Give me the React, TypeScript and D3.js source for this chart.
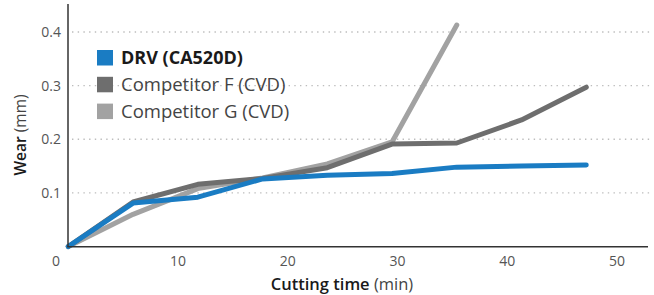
import React from "react";
import * as d3 from "d3";

const times = [0, 5.9, 11.8, 17.7, 23.6, 29.5, 35.4, 41.3, 47.2];
const drvWear = [0, 0.081, 0.092, 0.126, 0.133, 0.136, 0.148, 0.15, 0.152];
const compFWear = [0, 0.083, 0.116, 0.127, 0.147, 0.191, 0.193, 0.236, 0.297];
const compGWear = [0, 0.06, 0.108, 0.128, 0.154, 0.195, 0.413];
const xTicks = [10, 20, 30, 40, 50];
const yTicks = [0.1, 0.2, 0.3, 0.4];
const seriesNames = ["DRV (CA520D)", "Competitor F (CVD)", "Competitor G (CVD)"];
const seriesColors = ["#1a7cc3", "#6e6e6e", "#a2a2a2"];

const W = 654;
const H = 295;
const FONT = "'Open Sans', 'Noto Sans', sans-serif";

export default function App() {
  const x = d3.scaleLinear().domain([0, 50]).range([68.3, 617]);
  const y = d3.scaleLinear().domain([0, 0.4]).range([246.5, 32]);
  const line = d3
    .line<[number, number]>()
    .x((d) => x(d[0]))
    .y((d) => y(d[1]));

  const mk = (vals: number[]) => vals.map((v, i) => [times[i], v] as [number, number]);
  const series = [mk(drvWear), mk(compFWear), mk(compGWear)];
  const drawOrder = [2, 1, 0];

  return (
    <svg
      width={W}
      height={H}
      style={{ position: "absolute", left: 0, top: 0, background: "#fff" }}
      fontFamily={FONT}
    >
      {yTicks.map((t) => (
        <line
          key={"g" + t}
          x1={72}
          x2={650}
          y1={y(t)}
          y2={y(t)}
          stroke="#bdbdbd"
          strokeWidth={1.4}
          strokeDasharray="1.4 4.3"
        />
      ))}
      {yTicks.map((t) => (
        <text
          key={"yt" + t}
          x={61}
          y={y(t)}
          dy="0.35em"
          textAnchor="end"
          fontSize={14}
          fill="#555"
        >
          {d3.format(".1f")(t)}
        </text>
      ))}
      <text x={56} y={265.5} textAnchor="middle" fontSize={14} fill="#555">
        0
      </text>
      {xTicks.map((t) => (
        <text key={"xt" + t} x={x(t)} y={265.5} textAnchor="middle" fontSize={14} fill="#555">
          {t}
        </text>
      ))}
      {drawOrder.map((i) => (
        <path
          key={"s" + i}
          d={line(series[i]) || ""}
          fill="none"
          stroke={seriesColors[i]}
          strokeWidth={5}
          strokeLinejoin="round"
          strokeLinecap="round"
        />
      ))}
      <line x1={68} x2={68} y1={4} y2={247} stroke="#333" strokeWidth={1.5} />
      <line x1={67.3} x2={648} y1={246.7} y2={246.7} stroke="#333" strokeWidth={1.5} />
      {seriesNames.map((n, i) => (
        <g key={"l" + i} transform={`translate(97, ${50 + i * 26.8})`}>
          <rect x={0} y={0} width={16} height={15.5} fill={seriesColors[i]} />
          <text
            x={24}
            y={8}
            dy="0.36em"
            fontSize={i === 0 ? 18 : 18.5}
            fontWeight={i === 0 ? 700 : 400}
            fill={i === 0 ? "#1a1a1a" : "#444"}
          >
            {n}
          </text>
        </g>
      ))}
      <text x={342} y={290} textAnchor="middle" fontSize={16.5} fill="#1a1a1a">
        <tspan fontWeight={600}>Cutting time</tspan>
        <tspan fill="#444"> (min)</tspan>
      </text>
      <text
        transform="translate(26, 135) rotate(-90)"
        textAnchor="middle"
        fontSize={15.5}
        fill="#1a1a1a"
      >
        <tspan fontWeight={600}>Wear</tspan>
        <tspan fill="#444"> (mm)</tspan>
      </text>
    </svg>
  );
}
